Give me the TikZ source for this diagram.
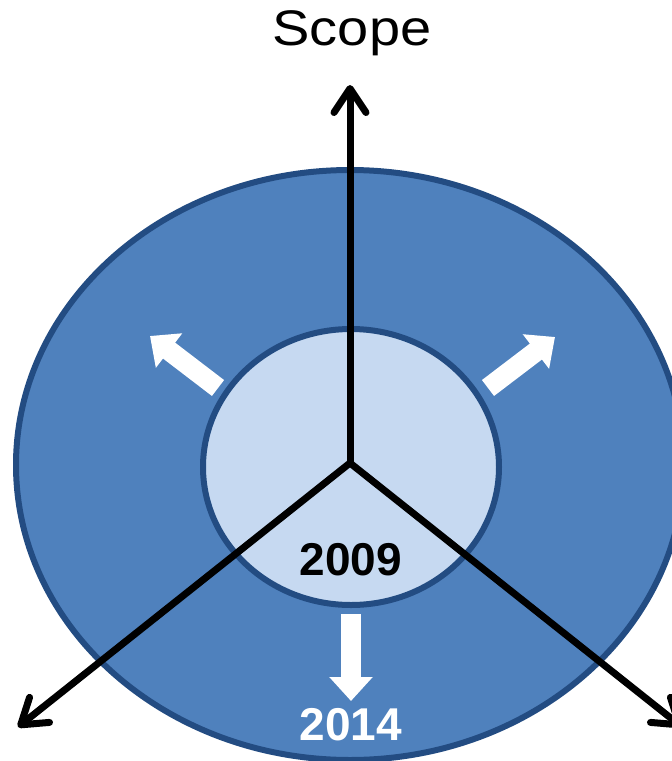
\documentclass[tikz,border=0pt]{standalone}
\usepackage{fontspec}
\setmainfont{Liberation Sans}
\usetikzlibrary{arrows.meta}

\definecolor{outerblue}{HTML}{4F81BD}
\definecolor{innerblue}{HTML}{C6D9F1}
\definecolor{rimblue}{HTML}{234C82}

\begin{document}
\begin{tikzpicture}[x=1pt, y=-1pt,
    axis/.style={line width=7pt, -{Straight Barb[length=24pt,width=32pt,round]}},
    growth/.style={line width=20pt, white, -{Triangle[length=24pt,width=42pt]}},
    year/.style={font=\fontsize{46}{46}\selectfont\bfseries, anchor=base}]
    % Frame
    \useasboundingbox (0,0) rectangle (672,761);
    \clip (0,0) rectangle (672,761);

    % Centre of the axes
    \coordinate (orig) at (350,463);

    % Rings
    \draw[line width=6pt, draw=rimblue, fill=outerblue] (350,465) ellipse (334 and 295);
    \draw[line width=6pt, draw=rimblue, fill=innerblue] (351,467) ellipse (148 and 138);

    % Growth arrows
    \coordinate (ul) at (218,388);
    \coordinate (ur) at (488,388);
    \coordinate (dn) at (351,614);
    \draw[growth] (ul) -- (150,336);
    \draw[growth] (ur) -- (555,337);
    \draw[growth] (dn) -- (351,701);

    % Axes
    \coordinate (top) at (350,85);
    \coordinate (left) at (18,727);
    \coordinate (right) at (682,727);
    \draw[axis] (orig) -- (top);
    \draw[axis] (orig) -- (left);
    \draw[axis] (orig) -- (right);

    % Labels
    \node[font=\fontsize{50}{50}\selectfont, xscale=1.12, anchor=base] (scope) at (352,45) {Scope};
    \node[year] (now) at (351,575) {2009};
    \node[year, text=white] (later) at (351,740) {2014};
\end{tikzpicture}
\end{document}
